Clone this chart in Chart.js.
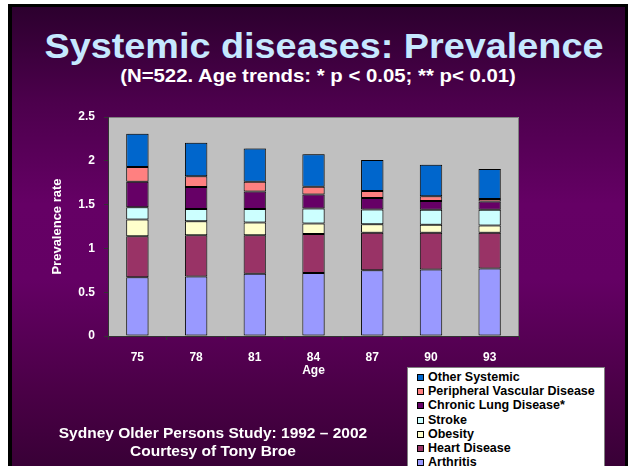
<!DOCTYPE html>
<html>
<head>
<meta charset="utf-8">
<script src="https://cdn.jsdelivr.net/npm/chart.js@4"></script>
<style>
    body { margin: 0; background: #fff; width: 628px; height: 466px; overflow: hidden; position: relative; font-family: Arial, "Liberation Sans", sans-serif; }
    #frame { position: absolute; left: 8px; top: 4px; width: 620px; height: 470px; background: #000; }
    #slide { position: absolute; left: 12px; top: 7px; width: 613px; height: 470px;
        background: linear-gradient(to bottom, #2c002e 0%, #4c004c 20%, #650065 42%, #640064 58%, #4a0046 82%, #360034 100%); }
    #chart { position: absolute; left: 0; top: 0; }
    .txt { position: absolute; white-space: nowrap; font-weight: bold; text-align: center; }
    #title { left: 24px; width: 600px; top: 28px; font-size: 35px; line-height: 35px; color: #c6e8ff; transform: scaleX(1.08); }
    #subtitle { left: 18px; width: 600px; top: 67px; font-size: 18.5px; line-height: 18.5px; color: #fff; transform: scaleX(1.1); }
    #footer { left: 13px; width: 400px; top: 424px; font-size: 15.5px; line-height: 17.7px; color: #fff; }
    #legend { position: absolute; left: 407px; top: 367px; width: 198px; height: 110px; background: #fff;
        border: 1px solid #808080; box-sizing: border-box; padding: 2px 0 0 9px; font-size: 12.5px; font-weight: bold; line-height: 14.2px; color: #000; }
    #legend span.box { display: inline-block; width: 5px; height: 5px; border: 1px solid #000; margin-right: 4px; vertical-align: baseline; }
</style>
</head>
<body>
<div id="frame"></div>
<div id="slide"></div>
<div class="txt" id="title">Systemic diseases: Prevalence</div>
<div class="txt" id="subtitle">(N=522. Age trends: * p &lt; 0.05; ** p&lt; 0.01)</div>
<canvas id="chart" width="628" height="466"></canvas>
<div id="legend"></div>
<div class="txt" id="footer">Sydney Older Persons Study: 1992 – 2002<br>Courtesy of Tony Broe</div>
<script>
// Data
const ages = ['75', '78', '81', '84', '87', '90', '93'];
const arthritis = [0.67, 0.68, 0.71, 0.72, 0.75, 0.76, 0.77];
const heartDisease = [0.47, 0.47, 0.44, 0.445, 0.43, 0.42, 0.41];
const obesity = [0.19, 0.16, 0.145, 0.12, 0.095, 0.09, 0.08];
const stroke = [0.14, 0.14, 0.155, 0.17, 0.17, 0.17, 0.18];
const chronicLung = [0.29, 0.25, 0.20, 0.16, 0.13, 0.10, 0.095];
const peripheralVascular = [0.17, 0.125, 0.11, 0.09, 0.08, 0.055, 0.03];
const otherSystemic = [0.38, 0.38, 0.38, 0.37, 0.355, 0.36, 0.34];

const seriesNames = ['Arthritis', 'Heart Disease', 'Obesity', 'Stroke', 'Chronic Lung Disease*', 'Peripheral Vascular Disease', 'Other Systemic'];
const seriesValues = [arthritis, heartDisease, obesity, stroke, chronicLung, peripheralVascular, otherSystemic];
const seriesColors = ['#9999ff', '#993366', '#ffffcc', '#ccffff', '#660066', '#ff8080', '#0066cc'];

const datasets = seriesNames.map(function(name, i) {
    return {
        label: name,
        data: seriesValues[i],
        backgroundColor: seriesColors[i],
        borderColor: '#000',
        borderWidth: 1,
        borderSkipped: false,
        barPercentage: 0.38,
        categoryPercentage: 1
    };
});

// grey plot area with its thin frame
const plotBackground = {
    id: 'plotBackground',
    beforeDraw: function(chart) {
        const a = chart.chartArea;
        const ctx = chart.ctx;
        ctx.save();
        ctx.fillStyle = '#c0c0c0';
        ctx.fillRect(a.left, a.top, a.right - a.left, a.bottom - a.top);
        ctx.strokeStyle = '#808080';
        ctx.lineWidth = 1;
        ctx.beginPath();
        ctx.moveTo(a.left, a.top + 0.5);
        ctx.lineTo(a.right - 0.5, a.top + 0.5);
        ctx.lineTo(a.right - 0.5, a.bottom);
        ctx.stroke();
        ctx.restore();
    },
    beforeDatasetsDraw: function(chart) {
        chart.ctx.save();
        chart.ctx.shadowColor = 'rgba(90,90,90,0.7)';
        chart.ctx.shadowOffsetX = 2;
        chart.ctx.shadowOffsetY = 0;
    },
    afterDatasetsDraw: function(chart) {
        chart.ctx.restore();
    }
};

const axisFont = { family: 'Arial, "Liberation Sans", sans-serif', size: 12, weight: 'bold' };

new Chart(document.getElementById('chart'), {
    type: 'bar',
    data: { labels: ages, datasets: datasets },
    options: {
        responsive: false,
        devicePixelRatio: 1,
        animation: false,
        layout: { padding: { left: 40, top: 117, right: 109, bottom: 88 } },
        plugins: {
            legend: { display: false },
            tooltip: { enabled: false }
        },
        scales: {
            x: {
                stacked: true,
                grid: { offset: true, drawOnChartArea: false, tickLength: 4, color: '#333' },
                border: { color: '#333' },
                ticks: { color: '#fff', font: axisFont, padding: 10 },
                title: { display: true, text: 'Age', color: '#fff', font: axisFont, padding: 0 },
                afterFit: function(s) { s.height = 42; }
            },
            y: {
                stacked: true,
                min: 0,
                max: 2.5,
                grid: { drawOnChartArea: false, tickLength: 4, color: '#333' },
                border: { color: '#333' },
                ticks: {
                    stepSize: 0.5, color: '#fff', font: axisFont, padding: 9,
                    callback: function(v) { return String(v); }
                },
                title: { display: true, text: 'Prevalence rate', color: '#fff', font: { family: axisFont.family, size: 13, weight: 'bold' }, padding: { top: 10, bottom: 0 } },
                afterFit: function(s) { s.width = 68; }
            }
        }
    },
    plugins: [plotBackground]
});

// legend box, top entry first like the slide
const legendDiv = document.getElementById('legend');
for (let i = seriesNames.length - 1; i >= 0; i--) {
    const row = document.createElement('div');
    row.innerHTML = '<span class="box" style="background:' + seriesColors[i] + '"></span>' + seriesNames[i];
    legendDiv.appendChild(row);
}
</script>
</body>
</html>
